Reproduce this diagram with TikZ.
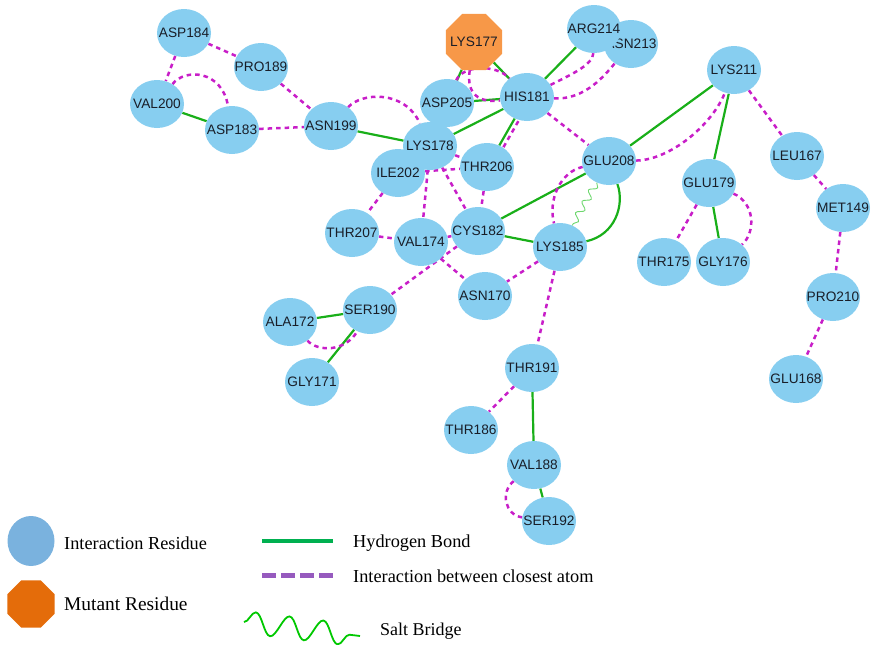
\documentclass[tikz,border=0pt]{standalone}
\usepackage{fontspec}
\setmainfont{Liberation Serif}
\newfontfamily\nodefont{Liberation Sans}
\usetikzlibrary{shapes.geometric,backgrounds,decorations.pathmorphing}
\definecolor{resblue}{RGB}{135,206,240}
\definecolor{mutorange}{RGB}{247,152,72}
\definecolor{hgreen}{RGB}{25,175,25}
\definecolor{cmag}{RGB}{200,30,200}
\definecolor{saltgreen}{RGB}{110,215,110}
\definecolor{legblue}{RGB}{122,178,222}
\definecolor{legorange}{RGB}{228,108,10}
\definecolor{leggreen}{RGB}{0,176,80}
\definecolor{legpurple}{RGB}{150,90,190}
\definecolor{legsalt}{RGB}{0,200,0}
\definecolor{nodetext}{RGB}{25,30,40}
\newcommand\rlab[1]{\makebox[0pt]{#1}}
\begin{document}
\begin{tikzpicture}[x=1pt,y=-1pt,
  res/.style={ellipse, fill=resblue, minimum width=54pt, minimum height=48pt, inner sep=0pt,
    font=\nodefont\fontsize{13.7}{14}\selectfont, text=nodetext},
  mut/.style={regular polygon, regular polygon sides=8, fill=mutorange, minimum size=61pt, inner sep=0pt,
    font=\nodefont\fontsize{13.7}{14}\selectfont, text=nodetext},
  hb/.style={draw=hgreen, line width=2.2pt},
  ci/.style={draw=cmag, line width=2.5pt, dash pattern=on 4.5pt off 4pt},
  salt/.style={draw=saltgreen, line width=0.9pt, decorate, decoration={snake, amplitude=3.5pt, segment length=13pt}},
  legtext/.style={anchor=west, inner sep=0pt, font=\fontsize{18.3}{20}\selectfont}
]
\useasboundingbox (0,0) rectangle (871,645);

% residues
\node[res] (asn213) at (631,44) {\rlab{ASN213}};
\node[res] (arg214) at (594,29) {\rlab{ARG214}};
\node[res] (asp184) at (184,33) {\rlab{ASP184}};
\node[res] (pro189) at (261,67) {\rlab{PRO189}};
\node[res] (val200) at (157,104) {\rlab{VAL200}};
\node[res] (asp183) at (232,130) {\rlab{ASP183}};
\node[res] (asn199) at (331,126) {\rlab{ASN199}};
\node[mut] (lys177) at (474,42) {\rlab{LYS177}};
\node[res] (asp205) at (447,103) {\rlab{ASP205}};
\node[res] (his181) at (527,97) {\rlab{HIS181}};
\node[res] (lys178) at (430,146) {\rlab{LYS178}};
\node[res] (ile202) at (398,173) {\rlab{ILE202}};
\node[res] (thr206) at (487,167) {\rlab{THR206}};
\node[res] (glu208) at (609,161) {\rlab{GLU208}};
\node[res] (lys211) at (734,70) {\rlab{LYS211}};
\node[res] (leu167) at (797,156) {\rlab{LEU167}};
\node[res] (glu179) at (709,183) {\rlab{GLU179}};
\node[res] (met149) at (843,208) {\rlab{MET149}};
\node[res] (thr175) at (664,262) {\rlab{THR175}};
\node[res] (gly176) at (723,262) {\rlab{GLY176}};
\node[res] (thr207) at (352,233) {\rlab{THR207}};
\node[res] (val174) at (421,242) {\rlab{VAL174}};
\node[res] (cys182) at (478,231) {\rlab{CYS182}};
\node[res] (lys185) at (560,247) {\rlab{LYS185}};
\node[res] (asn170) at (485,296) {\rlab{ASN170}};
\node[res] (pro210) at (833,297) {\rlab{PRO210}};
\node[res] (ser190) at (370,310) {\rlab{SER190}};
\node[res] (ala172) at (290,322) {\rlab{ALA172}};
\node[res] (gly171) at (312,382) {\rlab{GLY171}};
\node[res] (thr191) at (532,368) {\rlab{THR191}};
\node[res] (glu168) at (796,379) {\rlab{GLU168}};
\node[res] (thr186) at (471,430) {\rlab{THR186}};
\node[res] (val188) at (534,465) {\rlab{VAL188}};
\node[res] (ser192) at (549,521) {\rlab{SER192}};

\begin{scope}[on background layer]
\draw[ci] (asp184) -- (val200);
\draw[ci] (asp184) -- (pro189);
\draw[ci] (pro189) -- (asn199);
\draw[hb] (val200) -- (asp183);
\draw[ci] (val200) .. controls (185,68) and (222,70) .. (asp183);
\draw[ci] (asp183) -- (asn199);
\draw[hb] (asn199) -- (lys178);
\draw[ci] (asn199) .. controls (362,92) and (405,90) .. (lys178);
\draw[hb] (lys177) -- (asp205);
\draw[hb] (lys177) -- (his181);
\draw[hb] (asp205) -- (his181);
\draw[ci] (asp205) .. controls (462,66) and (495,63) .. (his181);
\draw[ci] (lys177) .. controls (466,95) and (480,103) .. (his181);
\draw[hb] (his181) -- (arg214);
\draw[ci] (his181) .. controls (570,75) and (593,65) .. (arg214);
\draw[ci] (his181) .. controls (585,100) and (605,75) .. (asn213);
\draw[hb] (his181) -- (lys178);
\draw[hb] (his181) -- (thr206);
\draw[ci] ([shift={(4,2)}]his181.center) -- ([shift={(4,2)}]thr206.center);
\draw[ci] (his181) -- (glu208);
\draw[ci] (lys178) -- (thr206);
\draw[ci] (ile202) -- (thr206);
\draw[ci] (ile202) -- (thr207);
\draw[ci] (lys178) -- (val174);
\draw[ci] (lys178) -- (cys182);
\draw[ci] (thr206) -- (cys182);
\draw[ci] (thr207) -- (val174);
\draw[ci] (val174) -- (cys182);
\draw[ci] (cys182) -- (ser190);
\draw[ci] (val174) -- (asn170);
\draw[hb] (cys182) -- (glu208);
\draw[hb] (cys182) -- (lys185);
\draw[ci] (glu208) .. controls (560,172) and (548,200) .. (lys185);
\draw[hb] (glu208) .. controls (625,205) and (615,235) .. (lys185);
\draw[salt] (glu208) -- (lys185);
\draw[ci] (lys185) -- (asn170);
\draw[ci] (lys185) -- (thr191);
\draw[hb] (glu208) -- (lys211);
\draw[ci] (glu208) .. controls (670,160) and (712,125) .. (lys211);
\draw[hb] (lys211) -- (glu179);
\draw[ci] (lys211) -- (leu167);
\draw[ci] (leu167) -- (met149);
\draw[ci] (met149) -- (pro210);
\draw[ci] (pro210) -- (glu168);
\draw[ci] (glu179) -- (thr175);
\draw[hb] (glu179) -- (gly176);
\draw[ci] (glu179) .. controls (755,203) and (756,232) .. (gly176);
\draw[hb] (ser190) -- (ala172);
\draw[hb] (ser190) -- (gly171);
\draw[ci] (ala172) .. controls (318,352) and (345,352) .. (ser190);
\draw[ci] (thr191) -- (thr186);
\draw[hb] (thr191) -- (val188);
\draw[hb] (val188) -- (ser192);
\draw[ci] (val188) .. controls (500,492) and (505,515) .. (ser192);
\end{scope}

% legend
\node[ellipse, fill=legblue, minimum width=47pt, minimum height=50pt, inner sep=0pt] (legres) at (31,541) {};
\node[legtext] (legrestext) at (64,543) {Interaction Residue};
\node[regular polygon, regular polygon sides=8, fill=legorange, minimum size=51pt, inner sep=0pt] (legmut) at (31,604) {};
\node[legtext, font=\fontsize{19.4}{21}\selectfont] (legmuttext) at (64,604) {Mutant Residue};
\coordinate (hbA) at (262,541);
\coordinate (hbB) at (333,541);
\draw[leggreen, line width=4.5pt] (hbA) -- (hbB);
\node[legtext] (leghbtext) at (353,543) {Hydrogen Bond};
\coordinate (ciA) at (262,575);
\coordinate (ciB) at (333,575);
\draw[legpurple, line width=5pt, dash pattern=on 13.5pt off 5.5pt] (ciA) -- (ciB);
\node[legtext] (legcitext) at (353,576) {Interaction between closest atom};
\coordinate (sbA) at (244,622);
\coordinate (sbB) at (360,636);
\draw[legsalt, line width=1.8pt, decorate, decoration={snake, amplitude=11pt, segment length=34pt}] (sbA) -- (sbB);
\node[legtext, font=\fontsize{18}{20}\selectfont] (legsbtext) at (380,631) {Salt Bridge};
\end{tikzpicture}
\end{document}
